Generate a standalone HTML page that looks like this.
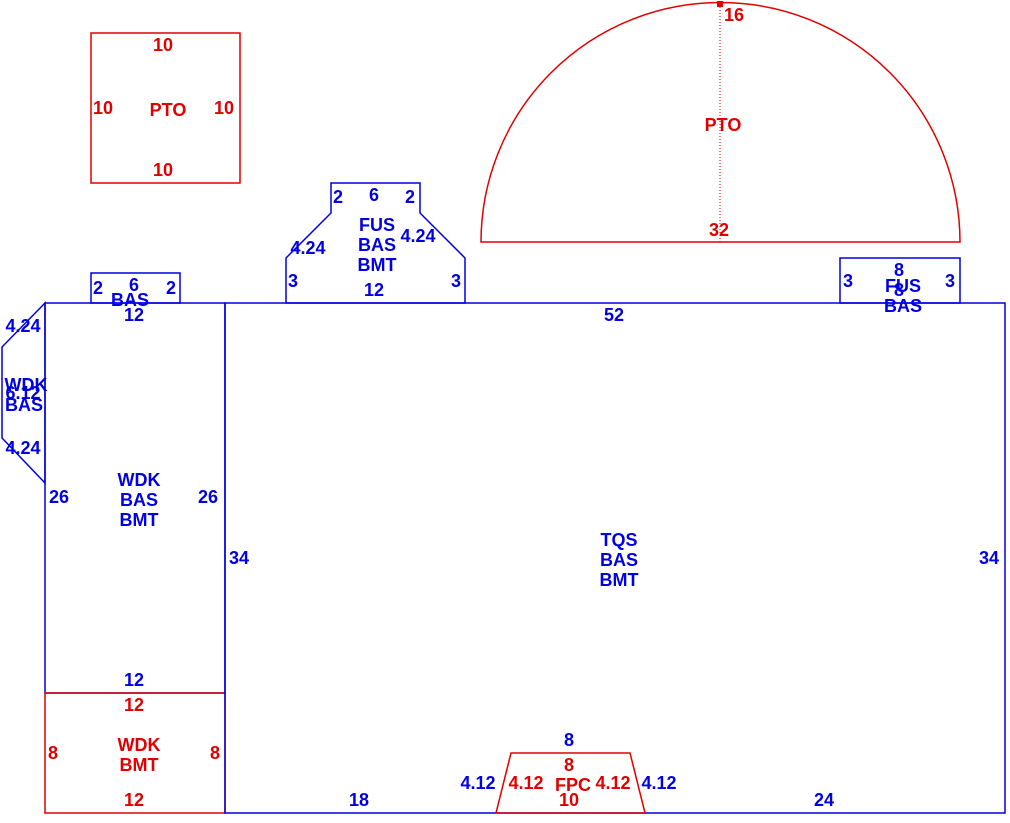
<!DOCTYPE html>
<html><head><meta charset="utf-8"><style>
html,body{margin:0;padding:0;background:#fff;width:1010px;height:823px;overflow:hidden}
svg text{font-family:"Liberation Sans",Arial,sans-serif;font-weight:bold;font-size:18px;text-anchor:middle;dominant-baseline:central}
.b{fill:#0000e0}.r{fill:#e00000}
</style></head><body>
<svg width="1010" height="823" viewBox="0 0 1010 823" xmlns="http://www.w3.org/2000/svg">
<g fill="none" stroke-width="1.5">
<rect x="91" y="33" width="149" height="150" stroke="#e00000"/>
<path d="M481,242 A239.5,239.5 0 0 1 960,242 Z" stroke="#e00000"/>
<line x1="720" y1="4" x2="720" y2="242" stroke="#e00000" stroke-width="1" stroke-dasharray="1,2"/>
<polygon points="331,183 420,183 420,213 465,258 465,303 286,303 286,258 331,213" stroke="#0000e0"/>
<rect x="91" y="273" width="89" height="30" stroke="#0000e0"/>
<polygon points="45,303 2,347 2,438 45,483" stroke="#0000e0"/>
<rect x="45" y="303" width="180" height="390" stroke="#0000e0"/>
<rect x="45" y="693" width="180" height="120" stroke="#e00000"/>
<rect x="225" y="303" width="780" height="510" stroke="#0000e0"/>
<rect x="840" y="258" width="120" height="45" stroke="#0000e0"/>
<polygon points="511,753 630,753 645,813 496,813" stroke="#e00000"/>
</g>
<rect x="717" y="1" width="6" height="6" fill="#e00000"/>
<g class="r">
<text x="163" y="45">10</text><text x="103" y="108">10</text><text x="224" y="108">10</text><text x="163" y="170">10</text><text x="168" y="110">PTO</text>
<text x="734" y="15">16</text><text x="723" y="125">PTO</text><text x="719" y="230">32</text>
<text x="134" y="705">12</text><text x="53" y="753">8</text><text x="215" y="753">8</text><text x="139" y="745">WDK</text><text x="139" y="765">BMT</text><text x="134" y="800">12</text>
<text x="569" y="765">8</text><text x="526" y="783">4.12</text><text x="573" y="785">FPC</text><text x="613" y="783">4.12</text><text x="569" y="800">10</text>
</g>
<g class="b">
<text x="338" y="197">2</text><text x="374" y="195">6</text><text x="410" y="197">2</text><text x="308" y="248">4.24</text><text x="418" y="236">4.24</text><text x="293" y="281">3</text><text x="456" y="281">3</text><text x="374" y="290">12</text>
<text x="377" y="225">FUS</text><text x="377" y="245">BAS</text><text x="377" y="265">BMT</text>
<text x="98" y="288">2</text><text x="134" y="285">6</text><text x="171" y="288">2</text><text x="130" y="300">BAS</text><text x="134" y="315">12</text>
<text x="23" y="326">4.24</text><text x="23" y="448">4.24</text><text x="23" y="393">6.12</text><text x="26" y="385">WDK</text><text x="24" y="405">BAS</text>
<text x="59" y="497">26</text><text x="208" y="497">26</text><text x="139" y="480">WDK</text><text x="139" y="500">BAS</text><text x="139" y="520">BMT</text><text x="134" y="680">12</text>
<text x="614" y="315">52</text><text x="239" y="558">34</text><text x="989" y="558">34</text>
<text x="619" y="540">TQS</text><text x="619" y="560">BAS</text><text x="619" y="580">BMT</text>
<text x="359" y="800">18</text><text x="824" y="800">24</text>
<text x="899" y="270">8</text><text x="899" y="290">8</text><text x="848" y="281">3</text><text x="950" y="281">3</text><text x="903" y="286">FUS</text><text x="903" y="306">BAS</text>
<text x="569" y="740">8</text><text x="478" y="783">4.12</text><text x="659" y="783">4.12</text>
</g>
</svg>
</body></html>
